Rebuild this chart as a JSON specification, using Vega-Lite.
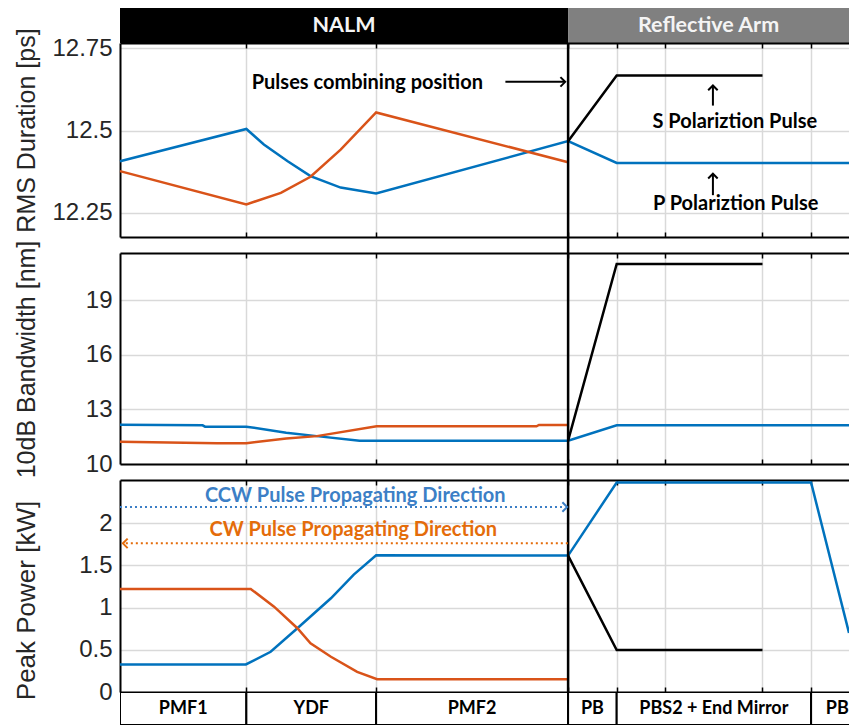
{
  "$schema": "https://vega.github.io/schema/vega-lite/v6.json",
  "padding": {"left": 12, "top": 8, "right": 0, "bottom": 0},
  "bounds": "flush",
  "spacing": 0,
  "datasets": {
    "curves": [
      {"panel": "rms", "series": "CCW", "x": 0, "y": 12.407},
      {"panel": "rms", "series": "CCW", "x": 2.6, "y": 12.505},
      {"panel": "rms", "series": "CCW", "x": 2.96, "y": 12.458},
      {"panel": "rms", "series": "CCW", "x": 3.45, "y": 12.407},
      {"panel": "rms", "series": "CCW", "x": 3.92, "y": 12.362},
      {"panel": "rms", "series": "CCW", "x": 4.54, "y": 12.327},
      {"panel": "rms", "series": "CCW", "x": 5.27, "y": 12.309},
      {"panel": "rms", "series": "CCW", "x": 9.22, "y": 12.468},
      {"panel": "rms", "series": "CCW", "x": 10.22, "y": 12.402},
      {"panel": "rms", "series": "CCW", "x": 15, "y": 12.402},
      {"panel": "rms", "series": "CW", "x": 0, "y": 12.377},
      {"panel": "rms", "series": "CW", "x": 2.6, "y": 12.276},
      {"panel": "rms", "series": "CW", "x": 3.31, "y": 12.311},
      {"panel": "rms", "series": "CW", "x": 3.92, "y": 12.36},
      {"panel": "rms", "series": "CW", "x": 4.54, "y": 12.442},
      {"panel": "rms", "series": "CW", "x": 5.27, "y": 12.555},
      {"panel": "rms", "series": "CW", "x": 9.22, "y": 12.404},
      {"panel": "rms", "series": "S", "x": 9.22, "y": 12.468},
      {"panel": "rms", "series": "S", "x": 10.22, "y": 12.667},
      {"panel": "rms", "series": "S", "x": 13.22, "y": 12.667},
      {"panel": "bw", "series": "CCW", "x": 0, "y": 12.15},
      {"panel": "bw", "series": "CCW", "x": 1.7, "y": 12.12},
      {"panel": "bw", "series": "CCW", "x": 1.75, "y": 12.05},
      {"panel": "bw", "series": "CCW", "x": 2.6, "y": 12.05},
      {"panel": "bw", "series": "CCW", "x": 3.42, "y": 11.72},
      {"panel": "bw", "series": "CCW", "x": 4.05, "y": 11.53},
      {"panel": "bw", "series": "CCW", "x": 4.93, "y": 11.28},
      {"panel": "bw", "series": "CCW", "x": 9.22, "y": 11.28},
      {"panel": "bw", "series": "CCW", "x": 10.22, "y": 12.13},
      {"panel": "bw", "series": "CCW", "x": 15, "y": 12.13},
      {"panel": "bw", "series": "CW", "x": 0, "y": 11.22},
      {"panel": "bw", "series": "CW", "x": 2.0, "y": 11.14},
      {"panel": "bw", "series": "CW", "x": 2.6, "y": 11.14},
      {"panel": "bw", "series": "CW", "x": 3.42, "y": 11.4},
      {"panel": "bw", "series": "CW", "x": 4.05, "y": 11.53},
      {"panel": "bw", "series": "CW", "x": 5.28, "y": 12.07},
      {"panel": "bw", "series": "CW", "x": 8.57, "y": 12.07},
      {"panel": "bw", "series": "CW", "x": 8.62, "y": 12.14},
      {"panel": "bw", "series": "CW", "x": 9.22, "y": 12.14},
      {"panel": "bw", "series": "S", "x": 9.22, "y": 11.28},
      {"panel": "bw", "series": "S", "x": 10.22, "y": 20.98},
      {"panel": "bw", "series": "S", "x": 13.22, "y": 20.98},
      {"panel": "pp", "series": "CCW", "x": 0, "y": 0.326},
      {"panel": "pp", "series": "CCW", "x": 2.59, "y": 0.326},
      {"panel": "pp", "series": "CCW", "x": 3.1, "y": 0.476},
      {"panel": "pp", "series": "CCW", "x": 3.65, "y": 0.755},
      {"panel": "pp", "series": "CCW", "x": 4.34, "y": 1.11},
      {"panel": "pp", "series": "CCW", "x": 4.81, "y": 1.39},
      {"panel": "pp", "series": "CCW", "x": 5.27, "y": 1.619},
      {"panel": "pp", "series": "CCW", "x": 9.22, "y": 1.615},
      {"panel": "pp", "series": "CCW", "x": 10.22, "y": 2.48},
      {"panel": "pp", "series": "CCW", "x": 14.22, "y": 2.48},
      {"panel": "pp", "series": "CCW", "x": 15, "y": 0.7},
      {"panel": "pp", "series": "CW", "x": 0, "y": 1.22},
      {"panel": "pp", "series": "CW", "x": 2.69, "y": 1.22},
      {"panel": "pp", "series": "CW", "x": 3.17, "y": 1.01},
      {"panel": "pp", "series": "CW", "x": 3.65, "y": 0.755},
      {"panel": "pp", "series": "CW", "x": 3.92, "y": 0.576},
      {"panel": "pp", "series": "CW", "x": 4.34, "y": 0.417},
      {"panel": "pp", "series": "CW", "x": 4.88, "y": 0.238},
      {"panel": "pp", "series": "CW", "x": 5.29, "y": 0.151},
      {"panel": "pp", "series": "CW", "x": 9.22, "y": 0.151},
      {"panel": "pp", "series": "S", "x": 9.22, "y": 1.615},
      {"panel": "pp", "series": "S", "x": 10.22, "y": 0.496},
      {"panel": "pp", "series": "S", "x": 13.22, "y": 0.496}
    ],
    "arrows": [
      {"panel": "rms", "series": "note", "x": 7.93, "x2": 9.14, "y": 12.648, "y2": 12.648},
      {"panel": "rms", "series": "note", "x": 12.2, "x2": 12.2, "y": 12.576, "y2": 12.634},
      {"panel": "rms", "series": "note", "x": 12.2, "x2": 12.2, "y": 12.304, "y2": 12.366},
      {"panel": "pp", "series": "CCW dir", "x": 0, "x2": 9.16, "y": 2.19, "y2": 2.19},
      {"panel": "pp", "series": "CW dir", "x": 0.12, "x2": 9.22, "y": 1.76, "y2": 1.76}
    ],
    "heads": [
      {"panel": "rms", "series": "note", "x": 9.16, "y": 12.648, "dir": "right"},
      {"panel": "rms", "series": "note", "x": 12.2, "y": 12.637, "dir": "up"},
      {"panel": "rms", "series": "note", "x": 12.2, "y": 12.369, "dir": "up"},
      {"panel": "pp", "series": "CCW dir", "x": 9.2, "y": 2.19, "dir": "right"},
      {"panel": "pp", "series": "CW dir", "x": 0.06, "y": 1.76, "dir": "left"}
    ],
    "notes": [
      {"panel": "rms", "series": "note", "text": "Pulses combining  position", "x": 5.09, "y": 12.645},
      {"panel": "rms", "series": "note", "text": "S Polariztion Pulse", "x": 12.65, "y": 12.525},
      {"panel": "rms", "series": "note", "text": "P Polariztion Pulse", "x": 12.67, "y": 12.276},
      {"panel": "pp", "series": "CCW dir", "text": "CCW Pulse Propagating Direction", "x": 4.84, "y": 2.32},
      {"panel": "pp", "series": "CW dir", "text": "CW Pulse Propagating Direction", "x": 4.8, "y": 1.913}
    ],
    "regions": [
      {"region": "NALM", "start": 0, "end": 9.22},
      {"region": "Reflective Arm", "start": 9.22, "end": 15}
    ],
    "segments": [
      {"name": "PMF1", "start": 0, "end": 2.6},
      {"name": "YDF", "start": 2.6, "end": 5.27},
      {"name": "PMF2", "start": 5.27, "end": 9.22},
      {"name": "PB", "start": 9.22, "end": 10.22},
      {"name": "PBS2 + End Mirror", "start": 10.22, "end": 14.22},
      {"name": "PB", "start": 14.22, "end": 15.3}
    ]
  },
  "vconcat": [
    {
      "width": 729,
      "height": 35,
      "data": {"name": "regions"},
      "transform": [{"calculate": "(datum.start + datum.end) / 2", "as": "mid"}],
      "layer": [
        {
          "mark": {"type": "rect"},
          "encoding": {
            "x": {"field": "start", "type": "quantitative", "scale": {"domain": [0, 15], "nice": false, "zero": false}, "axis": null},
            "x2": {"field": "end"},
            "fill": {"field": "region", "type": "nominal", "scale": {"domain": ["NALM", "Reflective Arm"], "range": ["#000000", "#808080"]}, "legend": null}
          }
        },
        {
          "mark": {"type": "text", "font": "Lato", "fontWeight": "bold", "fontSize": 21.5, "color": "#f4f4f4"},
          "encoding": {
            "x": {"field": "mid", "type": "quantitative", "axis": null},
            "text": {"field": "region"}
          }
        }
      ]
    },
    {
      "width": 729,
      "height": 194,
      "resolve": {"axis": {"x": "independent"}},
      "layer": [
        {
          "data": {"name": "curves"},
          "transform": [{"filter": "datum.panel === 'rms'"}],
          "mark": {"type": "line", "strokeWidth": 2.5},
          "encoding": {
            "x": {"field": "x", "type": "quantitative", "scale": {"domain": [0, 15], "nice": false, "zero": false},
              "axis": {"orient": "bottom", "values": [2.6, 5.27, 9.22, 10.22, 11.22, 13.22, 14.22], "grid": true, "labels": false, "ticks": true, "tickSize": -5, "domain": true, "title": null}},
            "y": {"field": "y", "type": "quantitative", "scale": {"domain": [12.177, 12.766], "nice": false, "zero": false},
              "axis": {"title": "RMS Duration [ps]", "values": [12.25, 12.5, 12.75], "labelExpr": "datum.value + ''", "titleX": -86, "titleY": 87, "grid": true}},
            "color": {"field": "series", "type": "nominal", "scale": {"domain": ["CCW", "CW", "S", "CCW dir", "CW dir", "note"], "range": ["#0072BD", "#D95319", "#000000", "#3C7FC6", "#E46C0A", "#000000"]}, "legend": null}
          }
        },
        {
          "data": {"values": [{}]},
          "mark": {"type": "rule", "color": "black", "strokeWidth": 2.5},
          "encoding": {
            "x": {"datum": 9.22, "type": "quantitative",
              "axis": {"orient": "top", "values": [2.6, 5.27, 9.22, 10.22, 11.22, 13.22, 14.22], "grid": false, "labels": false, "ticks": true, "tickSize": -5, "domain": true, "title": null}}
          }
        },
        {
          "data": {"name": "arrows"},
          "transform": [{"filter": "datum.panel === 'rms'"}],
          "mark": {"type": "rule", "strokeWidth": 2},
          "encoding": {
            "x": {"field": "x", "type": "quantitative", "axis": null},
            "x2": {"field": "x2"},
            "y": {"field": "y", "type": "quantitative"},
            "y2": {"field": "y2"},
            "color": {"field": "series", "type": "nominal", "legend": null}
          }
        },
        {
          "data": {"name": "heads"},
          "transform": [{"filter": "datum.panel === 'rms'"}],
          "mark": {"type": "point", "filled": false, "strokeWidth": 2, "opacity": 1, "size": 90},
          "encoding": {
            "x": {"field": "x", "type": "quantitative", "axis": null},
            "y": {"field": "y", "type": "quantitative"},
            "shape": {"field": "dir", "type": "nominal", "scale": {"domain": ["right", "left", "up"], "range": ["M-1,-1L0,0L-1,1", "M1,-1L0,0L1,1", "M-1,1L0,0L1,1"]}, "legend": null},
            "color": {"field": "series", "type": "nominal", "legend": null}
          }
        },
        {
          "data": {"name": "notes"},
          "transform": [{"filter": "datum.panel === 'rms'"}],
          "mark": {"type": "text", "font": "Lato", "fontWeight": "bold", "fontSize": 20},
          "encoding": {
            "x": {"field": "x", "type": "quantitative", "axis": null},
            "y": {"field": "y", "type": "quantitative"},
            "text": {"field": "text"},
            "color": {"field": "series", "type": "nominal", "legend": null}
          }
        }
      ]
    },
    {
      "width": 729,
      "height": 16,
      "data": {"values": [{}]},
      "mark": {"type": "rule", "color": "black", "strokeWidth": 2.5},
      "encoding": {
        "x": {"datum": 9.22, "type": "quantitative", "scale": {"domain": [0, 15], "nice": false, "zero": false}, "axis": null}
      }
    },
    {
      "width": 729,
      "height": 211,
      "resolve": {"axis": {"x": "independent"}},
      "layer": [
        {
          "data": {"name": "curves"},
          "transform": [{"filter": "datum.panel === 'bw'"}],
          "mark": {"type": "line", "strokeWidth": 2.5},
          "encoding": {
            "x": {"field": "x", "type": "quantitative", "scale": {"domain": [0, 15], "nice": false, "zero": false},
              "axis": {"orient": "bottom", "values": [2.6, 5.27, 9.22, 10.22, 11.22, 13.22, 14.22], "grid": true, "labels": false, "ticks": true, "tickSize": -5, "domain": true, "title": null}},
            "y": {"field": "y", "type": "quantitative", "scale": {"domain": [10, 21.58], "nice": false, "zero": false},
              "axis": {"title": "10dB Bandwidth [nm]", "values": [10, 13, 16, 19], "labelExpr": "datum.value + ''", "titleX": -86, "titleY": 106, "grid": true}},
            "color": {"field": "series", "type": "nominal", "scale": {"domain": ["CCW", "CW", "S", "CCW dir", "CW dir", "note"], "range": ["#0072BD", "#D95319", "#000000", "#3C7FC6", "#E46C0A", "#000000"]}, "legend": null}
          }
        },
        {
          "data": {"values": [{}]},
          "mark": {"type": "rule", "color": "black", "strokeWidth": 2.5},
          "encoding": {
            "x": {"datum": 9.22, "type": "quantitative",
              "axis": {"orient": "top", "values": [2.6, 5.27, 9.22, 10.22, 11.22, 13.22, 14.22], "grid": false, "labels": false, "ticks": true, "tickSize": -5, "domain": true, "title": null}}
          }
        }
      ]
    },
    {
      "width": 729,
      "height": 16,
      "data": {"values": [{}]},
      "mark": {"type": "rule", "color": "black", "strokeWidth": 2.5},
      "encoding": {
        "x": {"datum": 9.22, "type": "quantitative", "scale": {"domain": [0, 15], "nice": false, "zero": false}, "axis": null}
      }
    },
    {
      "width": 729,
      "height": 212,
      "resolve": {"axis": {"x": "independent"}},
      "layer": [
        {
          "data": {"name": "curves"},
          "transform": [{"filter": "datum.panel === 'pp'"}],
          "mark": {"type": "line", "strokeWidth": 2.5},
          "encoding": {
            "x": {"field": "x", "type": "quantitative", "scale": {"domain": [0, 15], "nice": false, "zero": false},
              "axis": {"orient": "bottom", "values": [2.6, 5.27, 9.22, 10.22, 11.22, 13.22, 14.22], "grid": true, "labels": false, "ticks": true, "tickSize": -5, "domain": true, "title": null}},
            "y": {"field": "y", "type": "quantitative", "scale": {"domain": [0, 2.51], "nice": false, "zero": false},
              "axis": {"title": "Peak Power [kW]", "values": [0, 0.5, 1, 1.5, 2], "labelExpr": "datum.value + ''", "titleX": -86, "titleY": 120, "titleFontSize": 26, "grid": true}},
            "color": {"field": "series", "type": "nominal", "scale": {"domain": ["CCW", "CW", "S", "CCW dir", "CW dir", "note"], "range": ["#0072BD", "#D95319", "#000000", "#3C7FC6", "#E46C0A", "#000000"]}, "legend": null}
          }
        },
        {
          "data": {"values": [{}]},
          "mark": {"type": "rule", "color": "black", "strokeWidth": 2.5},
          "encoding": {
            "x": {"datum": 9.22, "type": "quantitative",
              "axis": {"orient": "top", "values": [2.6, 5.27, 9.22, 10.22, 11.22, 13.22, 14.22], "grid": false, "labels": false, "ticks": true, "tickSize": -5, "domain": true, "title": null}}
          }
        },
        {
          "data": {"name": "arrows"},
          "transform": [{"filter": "datum.panel === 'pp'"}],
          "mark": {"type": "rule", "strokeWidth": 2, "strokeDash": [2, 3]},
          "encoding": {
            "x": {"field": "x", "type": "quantitative", "axis": null},
            "x2": {"field": "x2"},
            "y": {"field": "y", "type": "quantitative"},
            "y2": {"field": "y2"},
            "color": {"field": "series", "type": "nominal", "legend": null}
          }
        },
        {
          "data": {"name": "heads"},
          "transform": [{"filter": "datum.panel === 'pp'"}],
          "mark": {"type": "point", "filled": false, "strokeWidth": 2, "opacity": 1, "size": 90},
          "encoding": {
            "x": {"field": "x", "type": "quantitative", "axis": null},
            "y": {"field": "y", "type": "quantitative"},
            "shape": {"field": "dir", "type": "nominal", "scale": {"domain": ["right", "left", "up"], "range": ["M-1,-1L0,0L-1,1", "M1,-1L0,0L1,1", "M-1,1L0,0L1,1"]}, "legend": null},
            "color": {"field": "series", "type": "nominal", "legend": null}
          }
        },
        {
          "data": {"name": "notes"},
          "transform": [{"filter": "datum.panel === 'pp'"}],
          "mark": {"type": "text", "font": "Lato", "fontWeight": "bold", "fontSize": 20},
          "encoding": {
            "x": {"field": "x", "type": "quantitative", "axis": null},
            "y": {"field": "y", "type": "quantitative"},
            "text": {"field": "text"},
            "color": {"field": "series", "type": "nominal", "legend": null}
          }
        }
      ]
    },
    {
      "width": 729,
      "height": 33,
      "data": {"name": "segments"},
      "transform": [{"calculate": "(datum.start + datum.end) / 2", "as": "mid"}],
      "layer": [
        {
          "mark": {"type": "rect", "fill": "white", "stroke": "black", "strokeWidth": 2, "clip": true},
          "encoding": {
            "x": {"field": "start", "type": "quantitative", "scale": {"domain": [0, 15], "nice": false, "zero": false}, "axis": null},
            "x2": {"field": "end"}
          }
        },
        {
          "mark": {"type": "text", "font": "Lato", "fontWeight": "bold", "fontSize": 18, "color": "black", "clip": true},
          "encoding": {
            "x": {"field": "mid", "type": "quantitative", "axis": null},
            "text": {"field": "name"}
          }
        }
      ]
    }
  ],
  "config": {
    "view": {"stroke": null},
    "axis": {
      "labelFont": "Liberation Sans",
      "titleFont": "Liberation Sans",
      "labelFontSize": 24,
      "titleFontSize": 25,
      "titleFontWeight": "normal",
      "titleBaseline": "alphabetic",
      "labelColor": "#262626",
      "titleColor": "#262626",
      "gridColor": "#d9d9d9",
      "gridWidth": 1.5,
      "domainColor": "#000000",
      "domainWidth": 2,
      "tickColor": "#000000",
      "tickWidth": 1.5,
      "ticks": false,
      "labelPadding": 8
    }
  }
}
